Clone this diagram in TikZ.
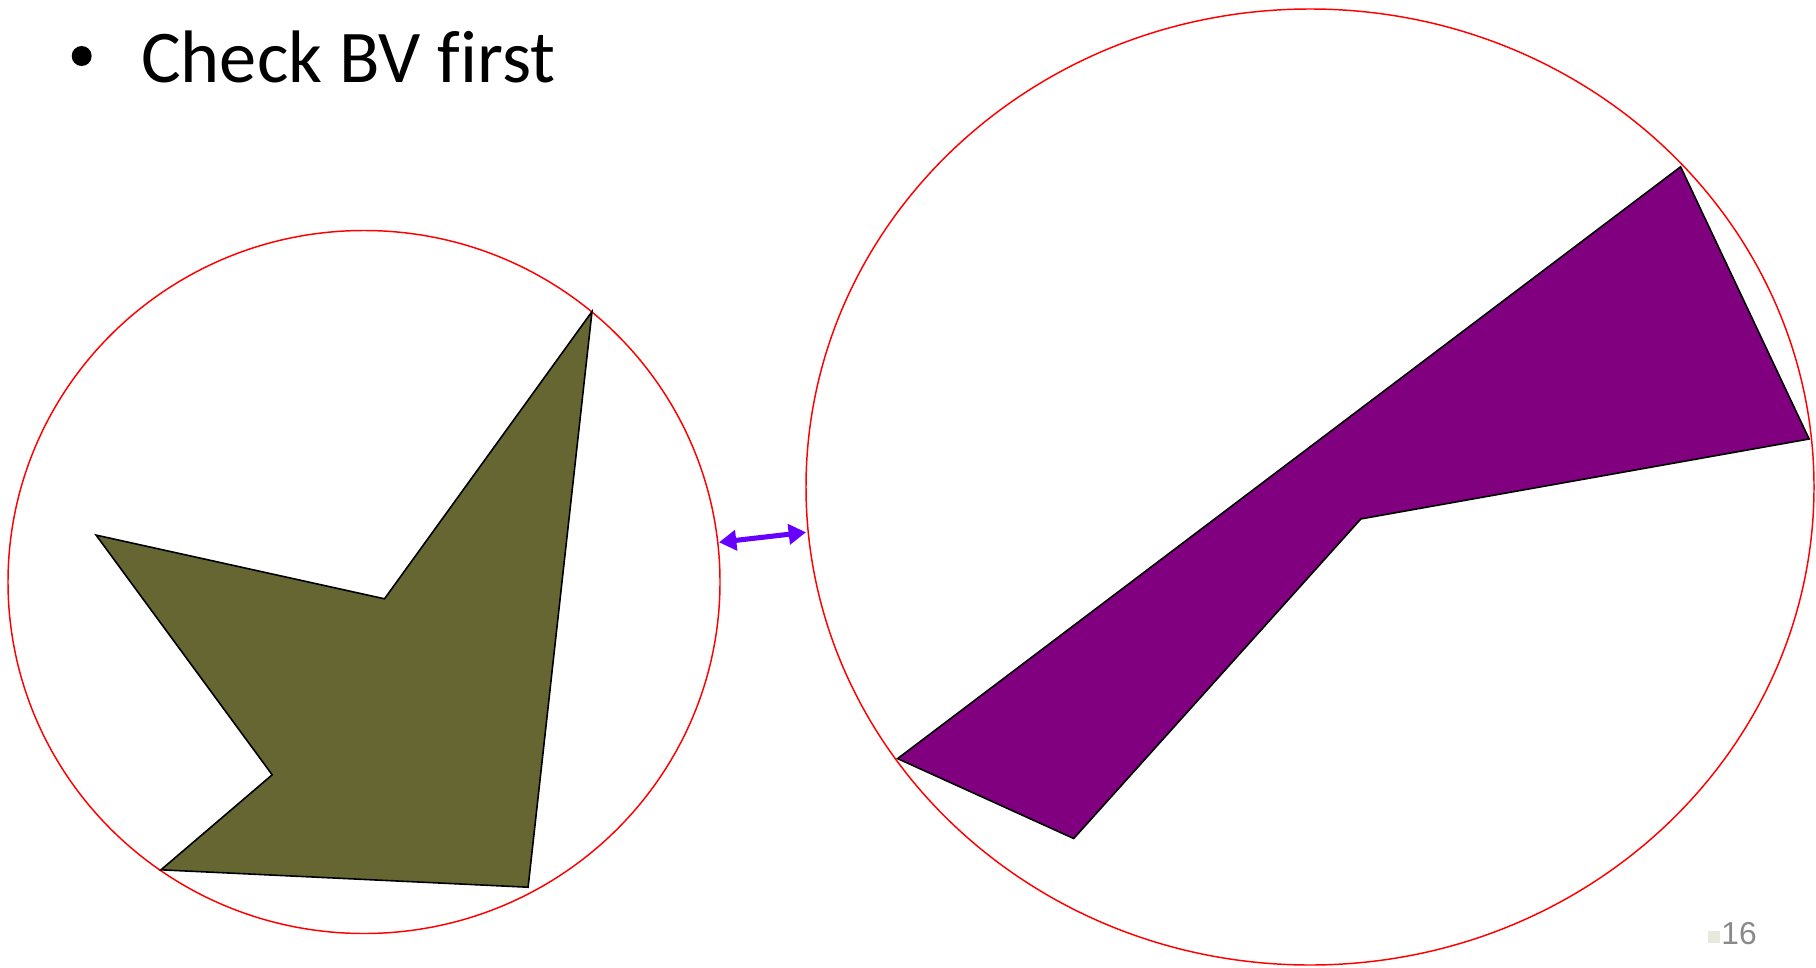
\documentclass[tikz,border=0pt]{standalone}
\usepackage{fontspec}
\setmainfont{Carlito}[Ligatures=NoCommon]
\newfontfamily\pnfont{Liberation Sans}
\usetikzlibrary{arrows.meta}
\definecolor{olivefill}{RGB}{102,102,51}
\definecolor{purplefill}{RGB}{128,0,128}
\definecolor{arrowviolet}{RGB}{102,0,255}
\definecolor{pngray}{RGB}{137,137,137}
\definecolor{pnsquare}{RGB}{234,232,220}
\begin{document}
\begin{tikzpicture}[x=0.75pt,y=-0.75pt,
  ring/.style={draw=red,line width=1.1pt},
  poly/.style={draw=black,line width=1.2pt,line join=miter},
  link/.style={draw=arrowviolet,line width=3.8pt,{Triangle[length=13pt,width=15pt]}-{Triangle[length=13pt,width=15pt]}}]
\useasboundingbox (0,0) rectangle (1816,967);
% title
\node[circle,fill=black,inner sep=0pt,minimum size=15pt] (bullet) at (81.7,56) {};
\node[anchor=base west,inner sep=0pt,font=\fontsize{55.8}{67}\selectfont] (title) at (141,82.5) {Check BV first};
% left circle and polygon
\draw[ring] (364,582) ellipse [x radius=356, y radius=351.5];
\filldraw[poly,fill=olivefill] (592,311.6) -- (384.5,598.8) -- (96.1,535.1) -- (272.2,774.8) -- (161,869.8) -- (528.1,887.2) -- cycle;
% right ellipse and polygon
\draw[ring] (1310,487) ellipse [x radius=504, y radius=478];
\filldraw[poly,fill=purplefill] (1680.6,166.8) -- (1809.1,439) -- (1360.9,518.9) -- (1073.7,838.5) -- (897.6,758.6) -- cycle;
% double arrow
\coordinate (aL) at (719,542.3);
\coordinate (aR) at (806,532.3);
\draw[link] (aL) -- (aR);
% page number
\fill[pnsquare] (1708.3,930.7) rectangle (1720,942.7);
\node[anchor=base east,inner sep=0pt,text=pngray,font=\pnfont\fontsize{23.8}{28}\selectfont] (pagenum) at (1757,944.3) {16};
\end{tikzpicture}
\end{document}
